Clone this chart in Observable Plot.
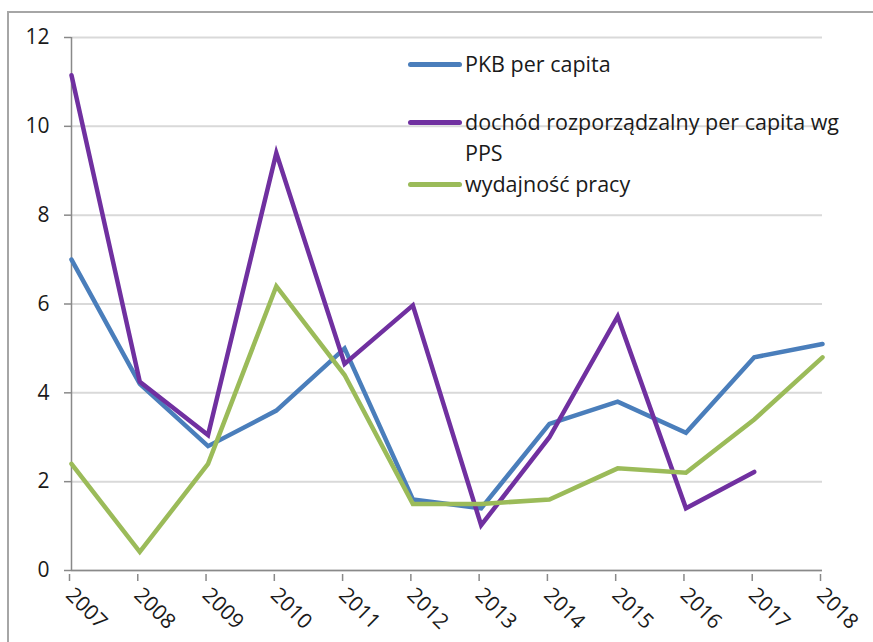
<!DOCTYPE html>
<html>
<head>
<meta charset="utf-8">
<script src="https://cdn.jsdelivr.net/npm/d3@7"></script>
<script src="https://cdn.jsdelivr.net/npm/@observablehq/plot@0.6"></script>
<style>
  html, body { margin: 0; padding: 0; background: #fff; overflow: hidden; }
  #wrap { position: relative; width: 873px; height: 642px; font-family: "Open Sans", Lato, sans-serif; }
  #frame { position: absolute; left: 7px; top: 11px; width: 900px; height: 700px; border-left: 2px solid #a6a6a6; border-top: 2px solid #a6a6a6; box-sizing: border-box; pointer-events: none; }
  #chart { position: absolute; left: 0; top: 0; }
  #legend { position: absolute; left: 408px; top: 48px; font-size: 21.5px; color: #1a1a1a; }
  .item { position: absolute; left: 0; white-space: nowrap; }
  .swatch { position: absolute; left: 0; width: 54px; height: 5px; border-radius: 3px; }
  .label { position: absolute; left: 57px; line-height: 31px; }
</style>
</head>
<body>
<div id="wrap">
  <div id="frame"></div>
  <div id="chart"></div>
  <div id="legend"></div>
</div>
<script>
const years = [2007, 2008, 2009, 2010, 2011, 2012, 2013, 2014, 2015, 2016, 2017, 2018];
const pkb = [7.0, 4.2, 2.8, 3.6, 5.0, 1.6, 1.4, 3.3, 3.8, 3.1, 4.8, 5.1];
const dochod = [11.15, 4.25, 3.05, 9.4, 4.65, 5.97, 1.02, 3.0, 5.72, 1.4, 2.22, null];
const wydajnosc = [2.4, 0.42, 2.4, 6.4, 4.4, 1.5, 1.5, 1.6, 2.3, 2.2, 3.4, 4.8];
const yTicks = [0, 2, 4, 6, 8, 10, 12];
const seriesNames = ["PKB per capita", "dochód rozporządzalny per capita wg PPS", "wydajność pracy"];
const seriesColors = ["#4a7ebb", "#7030a0", "#9bbb59"];
const seriesValues = [pkb, dochod, wydajnosc];

const tables = seriesValues.map((vals, i) => years.map((y, j) => ({year: y, value: vals[j], series: seriesNames[i]})));

const lineOpts = (i) => ({
  x: "year", y: "value", stroke: seriesColors[i], strokeWidth: 4.5,
  strokeLinejoin: "miter", strokeMiterlimit: 6, strokeLinecap: "round",
  defined: d => d.value != null
});

const chart = Plot.plot({
  width: 873,
  height: 642,
  marginLeft: 71,
  marginRight: 51,
  marginTop: 37,
  marginBottom: 72,
  style: {fontFamily: "'Open Sans', Lato, sans-serif", fontSize: "21px", color: "#1a1a1a", background: "transparent"},
  x: {domain: [2007, 2018], type: "linear", label: null},
  y: {domain: [0, 12], label: null},
  marks: [
    Plot.gridY(yTicks, {stroke: "#d9d9d9", strokeOpacity: 1, strokeWidth: 2}),
    Plot.axisY({ticks: yTicks, tickSize: 7, tickPadding: 15, stroke: "#898989", strokeWidth: 1.5, fontSize: 21, fill: "#1a1a1a", label: null}),
    Plot.axisX({ticks: years, tickFormat: d => String(d), tickSize: 7, tickRotate: 45, tickPadding: 10, dx: -2, dy: 4, stroke: "#898989", strokeWidth: 1.5, fontSize: 21, fill: "#1a1a1a", label: null}),
    Plot.ruleX([2007], {stroke: "#898989", strokeWidth: 1.5}),
    Plot.ruleY([0], {stroke: "#898989", strokeWidth: 1.5}),
    Plot.line(tables[0], lineOpts(0)),
    Plot.line(tables[1], lineOpts(1)),
    Plot.line(tables[2], lineOpts(2))
  ]
});
document.getElementById("chart").appendChild(chart);

// Legend
const legendLayout = [
  {top: 0, lines: ["PKB per capita"]},
  {top: 58, lines: ["dochód rozporządzalny per capita wg", "PPS"]},
  {top: 120, lines: ["wydajność pracy"]}
];
const legend = document.getElementById("legend");
legendLayout.forEach((item, i) => {
  const div = document.createElement("div");
  div.className = "item";
  div.style.top = item.top + "px";
  const sw = document.createElement("div");
  sw.className = "swatch";
  sw.style.background = seriesColors[i];
  sw.style.top = "14px";
  const lab = document.createElement("div");
  lab.className = "label";
  lab.innerHTML = item.lines.join("<br>");
  div.appendChild(sw);
  div.appendChild(lab);
  legend.appendChild(div);
});
</script>
</body>
</html>
